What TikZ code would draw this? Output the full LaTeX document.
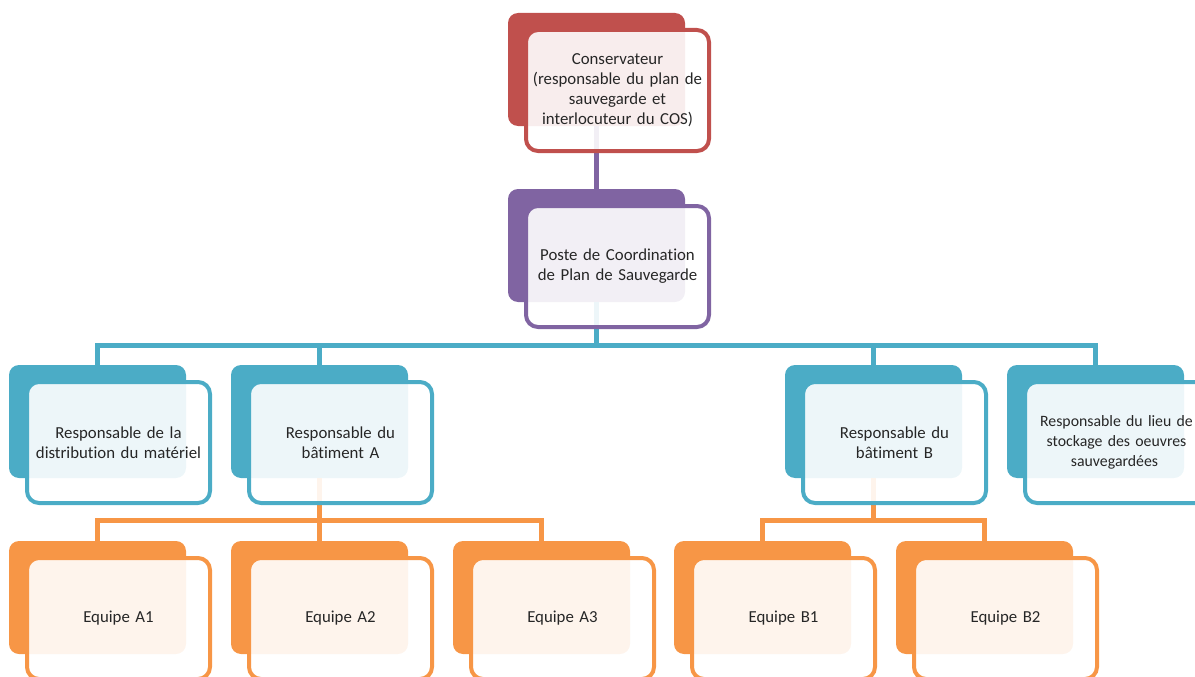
\documentclass[tikz,border=0pt]{standalone}
\usepackage{fontspec}
\setmainfont{Carlito}[Ligatures=NoCommon]
\usetikzlibrary{positioning}
\definecolor{consred}{HTML}{C0504D}
\definecolor{postepurple}{HTML}{8064A2}
\definecolor{respblue}{HTML}{4BACC6}
\definecolor{equipeorange}{HTML}{F79646}

\begin{document}
\begin{tikzpicture}[
  x=1pt, y=-1pt,
  tab/.style={fill=#1, rounded corners=10pt, minimum width=177pt, minimum height=113pt,
              inner sep=0pt, outer sep=0pt, anchor=north west},
  card/.style={draw=#1, line width=4pt, fill=white, fill opacity=0.9, text opacity=1,
               rounded corners=12pt, minimum width=183pt, minimum height=121pt,
               text width=178pt, align=center, inner sep=0pt, outer sep=0pt,
               font=\fontsize{16.8}{20}\selectfont, text=black!85},
  link/.style={draw=#1, line width=5pt}
]
\useasboundingbox (0,0) rectangle (1195,677);
\clip (0,0) rectangle (1195,677);

% back tabs
\node[tab=consred] (cons-t) at (508,13) {};
\node[tab=postepurple] (poste-t) at (508,189) {};
\node[tab=respblue] (distrib-t) at (9,365) {};
\node[tab=respblue] (batA-t) at (231,365) {};
\node[tab=respblue] (batB-t) at (785,365) {};
\node[tab=respblue] (stock-t) at (1007,365) {};
\node[tab=equipeorange] (eqA1-t) at (9,541) {};
\node[tab=equipeorange] (eqA2-t) at (231,541) {};
\node[tab=equipeorange] (eqA3-t) at (453,541) {};
\node[tab=equipeorange] (eqB1-t) at (674,541) {};
\node[tab=equipeorange] (eqB2-t) at (896,541) {};

% links
\draw[link=postepurple] (cons-t.south) -- (poste-t.north);
\draw[link=respblue] (poste-t.south) -- ++(0,43) -| (distrib-t.north);
\draw[link=respblue] (poste-t.south) -- ++(0,43) -| (batA-t.north);
\draw[link=respblue] (poste-t.south) -- ++(0,43) -| (batB-t.north);
\draw[link=respblue] (poste-t.south) -- ++(0,43) -| (stock-t.north);
\draw[link=equipeorange] (batA-t.south) -- ++(0,42) -| (eqA1-t.north);
\draw[link=equipeorange] (batA-t.south) -- ++(0,42) -| (eqA2-t.north);
\draw[link=equipeorange] (batA-t.south) -- ++(0,42) -| (eqA3-t.north);
\draw[link=equipeorange] (batB-t.south) -- ++(0,42) -| (eqB1-t.north);
\draw[link=equipeorange] (batB-t.south) -- ++(0,42) -| (eqB2-t.north);

% front cards
\node[card=consred, below right=17pt and 18pt of cons-t.north west] (cons)
  {Conservateur\\(responsable du plan de\\sauvegarde et\\interlocuteur du COS)};
\node[card=postepurple, below right=17pt and 18pt of poste-t.north west] (poste)
  {Poste de Coordination\\de Plan de Sauvegarde};
\node[card=respblue, below right=17pt and 18pt of distrib-t.north west] (distrib)
  {Responsable de la\\distribution du matériel};
\node[card=respblue, below right=17pt and 18pt of batA-t.north west] (batA)
  {Responsable du\\bâtiment A};
\node[card=respblue, below right=17pt and 18pt of batB-t.north west] (batB)
  {Responsable du\\bâtiment B};
\node[card=respblue, below right=17pt and 18pt of stock-t.north west,
      font=\fontsize{15.8}{20}\selectfont] (stock)
  {Responsable du lieu de\\stockage des oeuvres\\sauvegardées\hspace*{4pt}};
\node[card=equipeorange, below right=17pt and 18pt of eqA1-t.north west] (eqA1) {Equipe A1};
\node[card=equipeorange, below right=17pt and 18pt of eqA2-t.north west] (eqA2) {Equipe A2};
\node[card=equipeorange, below right=17pt and 18pt of eqA3-t.north west] (eqA3) {Equipe A3};
\node[card=equipeorange, below right=17pt and 18pt of eqB1-t.north west] (eqB1) {Equipe B1};
\node[card=equipeorange, below right=17pt and 18pt of eqB2-t.north west] (eqB2) {Equipe B2};
\end{tikzpicture}
\end{document}
